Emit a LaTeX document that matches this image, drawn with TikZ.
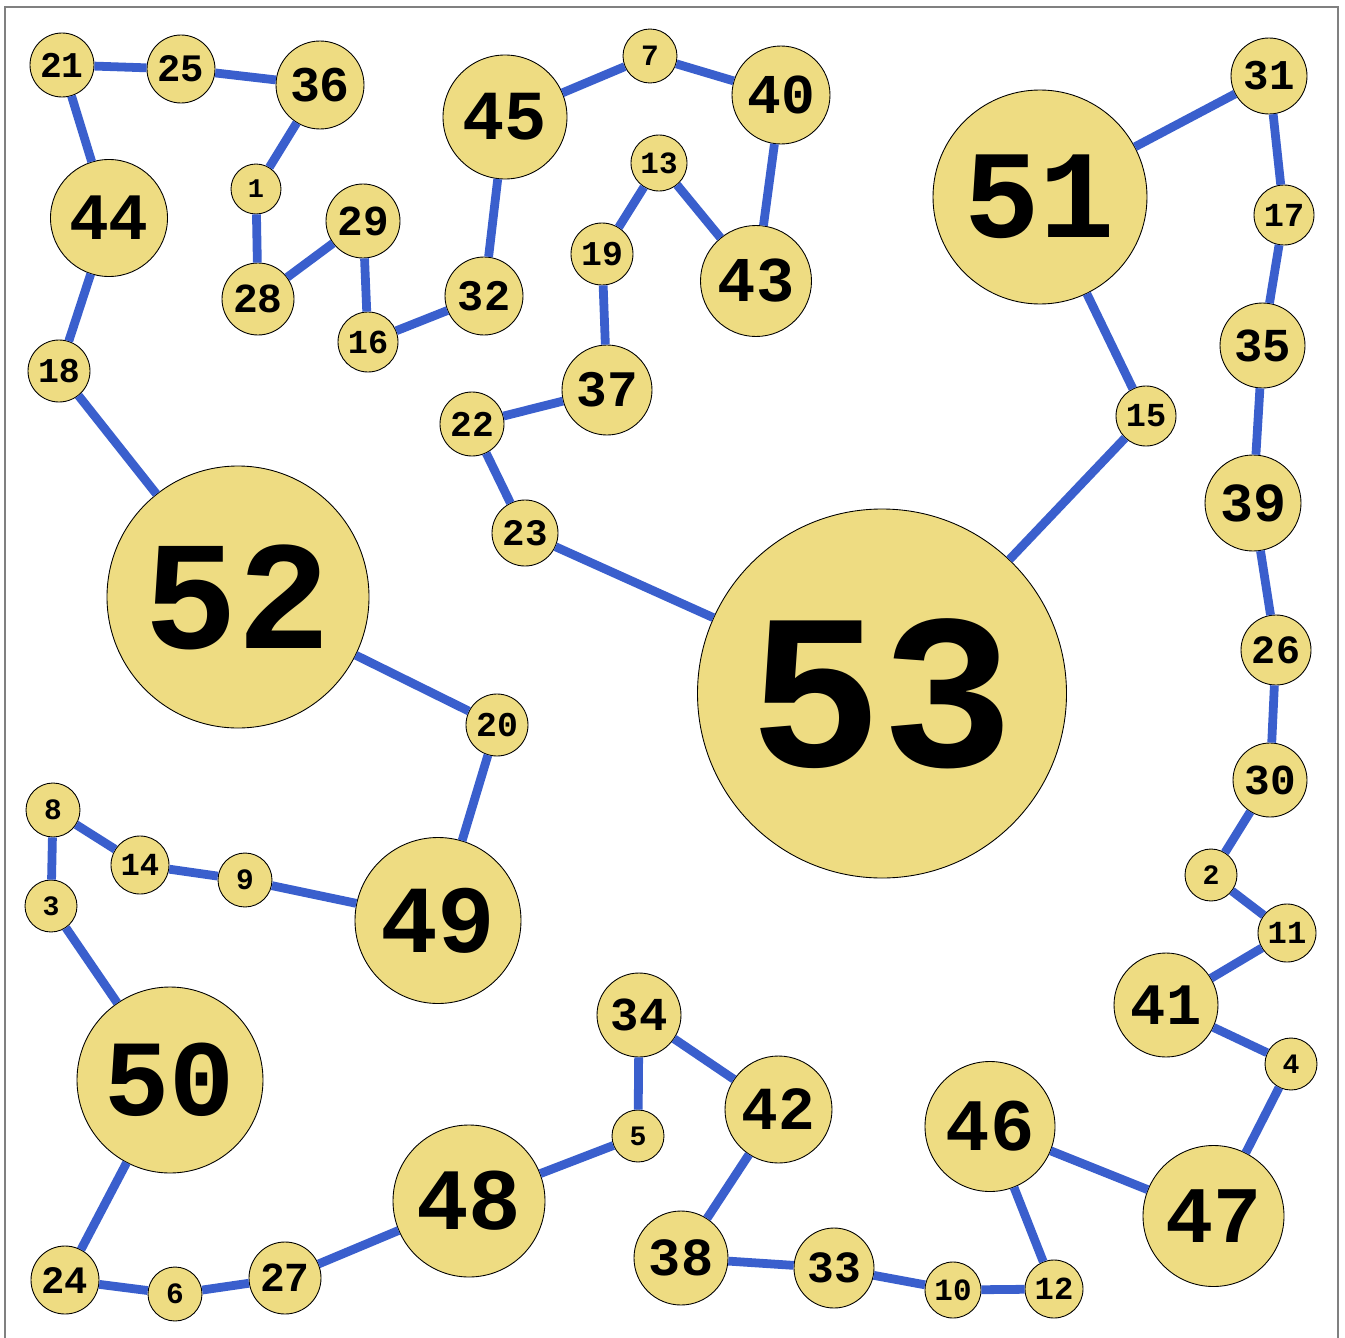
\documentclass[tikz,border=0pt]{standalone}
\usepackage{fontspec}
\setmonofont{Liberation Mono}
\usepackage{tikz}
\usetikzlibrary{positioning}

\definecolor{vertexfill}{RGB}{238,220,130}
\definecolor{linkblue}{RGB}{58,95,205}
\newcommand{\numfont}[1]{\ttfamily\bfseries\fontsize{#1}{#1}\selectfont}

\begin{document}
\begin{tikzpicture}
	\tikzstyle{vertex}=[circle,draw=black,line width=0.5pt,fill=vertexfill,inner sep=0pt]
	\tikzstyle{link}=[linkblue,line width=5pt]
	\useasboundingbox (0,0) rectangle (26.9,-26.76);
	\draw[gray,line width=1.1pt] (0.095,-26.76) |- (26.766,-0.134) -- (26.766,-26.76);
		\node[vertex, minimum size=1.28cm, font=\numfont{20.6}] (n21) at (1.24,-1.30) {21};
		\node[vertex, minimum size=1.36cm, font=\numfont{22.1}] (n25) at (3.62,-1.38) {25};
		\node[vertex, minimum size=1.76cm, font=\numfont{28.4}] (n36) at (6.40,-1.70) {36};
		\node[vertex, minimum size=2.34cm, font=\numfont{37.7}] (n44) at (2.18,-4.36) {44};
		\node[vertex, minimum size=1.00cm, font=\numfont{15.3}] (n1) at (5.12,-3.78) {1};
		\node[vertex, minimum size=1.48cm, font=\numfont{24.3}] (n29) at (7.26,-4.42) {29};
		\node[vertex, minimum size=1.44cm, font=\numfont{23.5}] (n28) at (5.16,-5.98) {28};
		\node[vertex, minimum size=1.20cm, font=\numfont{19.1}] (n16) at (7.36,-6.84) {16};
		\node[vertex, minimum size=1.56cm, font=\numfont{24.8}] (n32) at (9.68,-5.92) {32};
		\node[vertex, minimum size=1.24cm, font=\numfont{19.8}] (n18) at (1.18,-7.42) {18};
		\node[vertex, minimum size=2.48cm, font=\numfont{40.0}] (n45) at (10.10,-2.34) {45};
		\node[vertex, minimum size=1.08cm, font=\numfont{16.8}] (n7) at (13.00,-1.12) {7};
		\node[vertex, minimum size=1.96cm, font=\numfont{32.0}] (n40) at (15.62,-1.90) {40};
		\node[vertex, minimum size=1.12cm, font=\numfont{17.6}] (n13) at (13.18,-3.26) {13};
		\node[vertex, minimum size=1.24cm, font=\numfont{19.8}] (n19) at (12.04,-5.08) {19};
		\node[vertex, minimum size=2.22cm, font=\numfont{36.3}] (n43) at (15.12,-5.62) {43};
		\node[vertex, minimum size=1.80cm, font=\numfont{29.1}] (n37) at (12.14,-7.80) {37};
		\node[vertex, minimum size=1.28cm, font=\numfont{20.6}] (n22) at (9.44,-8.48) {22};
		\node[vertex, minimum size=1.32cm, font=\numfont{21.3}] (n23) at (10.50,-10.66) {23};
		\node[vertex, minimum size=4.28cm, font=\numfont{71.4}] (n51) at (20.80,-3.94) {51};
		\node[vertex, minimum size=1.52cm, font=\numfont{24.1}] (n31) at (25.38,-1.52) {31};
		\node[vertex, minimum size=1.20cm, font=\numfont{19.1}] (n17) at (25.68,-4.30) {17};
		\node[vertex, minimum size=1.70cm, font=\numfont{26.9}] (n35) at (25.25,-6.91) {35};
		\node[vertex, minimum size=1.20cm, font=\numfont{19.1}] (n15) at (22.92,-8.32) {15};
		\node[vertex, minimum size=1.92cm, font=\numfont{31.3}] (n39) at (25.06,-10.06) {39};
		\node[vertex, minimum size=5.24cm, font=\numfont{88.2}] (n52) at (4.76,-11.94) {52};
		\node[vertex, minimum size=7.38cm, font=\numfont{125.8}] (n53) at (17.64,-13.87) {53};
		\node[vertex, minimum size=1.24cm, font=\numfont{19.8}] (n20) at (9.94,-14.50) {20};
		\node[vertex, minimum size=1.40cm, font=\numfont{22.8}] (n26) at (25.52,-13.00) {26};
		\node[vertex, minimum size=1.48cm, font=\numfont{24.3}] (n30) at (25.40,-15.60) {30};
		\node[vertex, minimum size=1.08cm, font=\numfont{16.8}] (n8) at (1.06,-16.20) {8};
		\node[vertex, minimum size=1.16cm, font=\numfont{18.3}] (n14) at (2.80,-17.30) {14};
		\node[vertex, minimum size=1.08cm, font=\numfont{16.8}] (n9) at (4.90,-17.60) {9};
		\node[vertex, minimum size=3.32cm, font=\numfont{54.7}] (n49) at (8.76,-18.41) {49};
		\node[vertex, minimum size=1.04cm, font=\numfont{16.0}] (n3) at (1.02,-18.12) {3};
		\node[vertex, minimum size=1.04cm, font=\numfont{16.0}] (n2) at (24.22,-17.50) {2};
		\node[vertex, minimum size=1.16cm, font=\numfont{18.3}] (n11) at (25.74,-18.66) {11};
		\node[vertex, minimum size=2.08cm, font=\numfont{33.4}] (n41) at (23.32,-20.10) {41};
		\node[vertex, minimum size=3.72cm, font=\numfont{61.7}] (n50) at (3.40,-21.60) {50};
		\node[vertex, minimum size=1.68cm, font=\numfont{26.9}] (n34) at (12.78,-20.30) {34};
		\node[vertex, minimum size=1.04cm, font=\numfont{16.0}] (n4) at (25.82,-21.28) {4};
		\node[vertex, minimum size=2.14cm, font=\numfont{34.8}] (n42) at (15.57,-22.19) {42};
		\node[vertex, minimum size=1.04cm, font=\numfont{16.0}] (n5) at (12.76,-22.72) {5};
		\node[vertex, minimum size=3.04cm, font=\numfont{49.8}] (n48) at (9.38,-24.02) {48};
		\node[vertex, minimum size=2.60cm, font=\numfont{42.1}] (n46) at (19.80,-22.53) {46};
		\node[vertex, minimum size=2.82cm, font=\numfont{45.6}] (n47) at (24.27,-24.32) {47};
		\node[vertex, minimum size=1.88cm, font=\numfont{30.5}] (n38) at (13.62,-25.16) {38};
		\node[vertex, minimum size=1.60cm, font=\numfont{25.4}] (n33) at (16.68,-25.36) {33};
		\node[vertex, minimum size=1.12cm, font=\numfont{17.6}] (n10) at (19.06,-25.80) {10};
		\node[vertex, minimum size=1.16cm, font=\numfont{18.3}] (n12) at (21.08,-25.78) {12};
		\node[vertex, minimum size=1.36cm, font=\numfont{22.1}] (n24) at (1.30,-25.60) {24};
		\node[vertex, minimum size=1.08cm, font=\numfont{16.8}] (n6) at (3.50,-25.88) {6};
		\node[vertex, minimum size=1.44cm, font=\numfont{23.5}] (n27) at (5.70,-25.56) {27};
			\draw[link] (n21) -- (n25);
			\draw[link] (n25) -- (n36);
			\draw[link] (n36) -- (n1);
			\draw[link] (n1) -- (n28);
			\draw[link] (n28) -- (n29);
			\draw[link] (n29) -- (n16);
			\draw[link] (n16) -- (n32);
			\draw[link] (n32) -- (n45);
			\draw[link] (n45) -- (n7);
			\draw[link] (n7) -- (n40);
			\draw[link] (n40) -- (n43);
			\draw[link] (n43) -- (n13);
			\draw[link] (n13) -- (n19);
			\draw[link] (n19) -- (n37);
			\draw[link] (n37) -- (n22);
			\draw[link] (n22) -- (n23);
			\draw[link] (n23) -- (n53);
			\draw[link] (n53) -- (n15);
			\draw[link] (n15) -- (n51);
			\draw[link] (n51) -- (n31);
			\draw[link] (n31) -- (n17);
			\draw[link] (n17) -- (n35);
			\draw[link] (n35) -- (n39);
			\draw[link] (n39) -- (n26);
			\draw[link] (n26) -- (n30);
			\draw[link] (n30) -- (n2);
			\draw[link] (n2) -- (n11);
			\draw[link] (n11) -- (n41);
			\draw[link] (n41) -- (n4);
			\draw[link] (n4) -- (n47);
			\draw[link] (n47) -- (n46);
			\draw[link] (n46) -- (n12);
			\draw[link] (n12) -- (n10);
			\draw[link] (n10) -- (n33);
			\draw[link] (n33) -- (n38);
			\draw[link] (n38) -- (n42);
			\draw[link] (n42) -- (n34);
			\draw[link] (n34) -- (n5);
			\draw[link] (n5) -- (n48);
			\draw[link] (n48) -- (n27);
			\draw[link] (n27) -- (n6);
			\draw[link] (n6) -- (n24);
			\draw[link] (n24) -- (n50);
			\draw[link] (n50) -- (n3);
			\draw[link] (n3) -- (n8);
			\draw[link] (n8) -- (n14);
			\draw[link] (n14) -- (n9);
			\draw[link] (n9) -- (n49);
			\draw[link] (n49) -- (n20);
			\draw[link] (n20) -- (n52);
			\draw[link] (n52) -- (n18);
			\draw[link] (n18) -- (n44);
			\draw[link] (n44) -- (n21);
\end{tikzpicture}
\end{document}
